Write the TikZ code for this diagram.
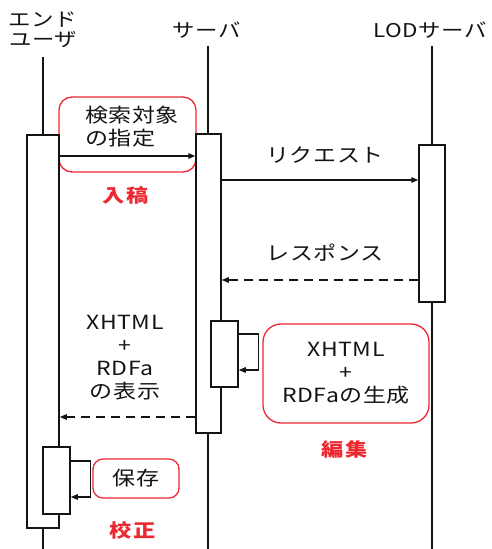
\documentclass[tikz,border=0pt]{standalone}
\usepackage{fontspec}
\setmainfont{Noto Sans CJK JP}[FakeStretch=1.18, LetterSpace=3]
\newfontfamily\redf{Noto Sans CJK JP}[FakeStretch=1.2, LetterSpace=10]
\usetikzlibrary{arrows.meta}
\definecolor{redc}{RGB}{236,40,48}
\definecolor{inkc}{RGB}{20,20,20}
\tikzset{
  life/.style={line width=1.5pt, draw=inkc},
  act/.style={draw=inkc, line width=1.5pt, fill=white, inner sep=0pt},
  rbox/.style={draw=redc, line width=1.3pt, fill=white, inner sep=0pt},
  msg/.style={line width=1.3pt, draw=inkc, -{Triangle[length=7pt,width=5.5pt]}},
  ret/.style={msg, dash pattern=on 9pt off 6pt},
  lab/.style={align=center, inner sep=0pt, text=inkc, font=\fontsize{19.5}{23}\selectfont},
  hdr/.style={lab, font=\fontsize{19}{20}\selectfont},
  redlab/.style={inner sep=0pt, text=redc, font=\redf\bfseries\fontsize{18.5}{22}\selectfont}
}
\begin{document}
\begin{tikzpicture}[x=1pt,y=-1pt]
\useasboundingbox (0,0) rectangle (491,549);
% headers
\node[hdr] (hEU) at (43,30) {エンド\\ユーザ};
\node[hdr] (hSV) at (207,30) {サーバ};
\node[hdr] (hLOD) at (430,30) {LODサーバ};
% lifelines
\coordinate (EUtop) at (43,57); \coordinate (EUbot) at (43,549);
\coordinate (SVtop) at (208,46); \coordinate (SVbot) at (208,549);
\coordinate (LODtop) at (432,46); \coordinate (LODbot) at (432,549);
\draw[life] (EUtop) -- (EUbot);
\draw[life] (SVtop) -- (SVbot);
\draw[life] (LODtop) -- (LODbot);
% red boxes
\node[rbox, rounded corners=13pt, minimum width=137pt, minimum height=75pt] (b1) at (127.5,134.5) {};
\node[lab, anchor=west, align=left] (t1) at (85,126.5) {検索対象\\の指定};
% activations
\node[act, minimum width=32pt, minimum height=393pt] (aEU) at (43,331.5) {};
\node[act, minimum width=25pt, minimum height=299pt] (aSV) at (208.5,283.5) {};
\node[act, minimum width=26pt, minimum height=157pt] (aLOD) at (432,223.5) {};
\node[act, minimum width=27pt, minimum height=66pt] (aSV2) at (224.5,354) {};
\node[act, minimum width=27pt, minimum height=67pt] (aEU2) at (56.5,480.5) {};
% messages
\draw[msg] (aEU.east |- 0,156) -- (aSV.west |- 0,156);
\draw[msg] (aSV.east |- 0,180) -- (aLOD.west |- 0,180);
\draw[ret] (aLOD.west |- 0,280) -- (aSV.east |- 0,280);
\draw[ret] (aSV.west |- 0,417) -- (aEU.east |- 0,417);
\draw[msg] (aSV2.east |- 0,334) -- ++(20,0) |- (aSV2.east |- 0,370);
\draw[msg] (aEU2.east |- 0,461) -- ++(20,0) |- (aEU2.east |- 0,497);
% labels
\node[lab] (lReq) at (325,155) {リクエスト};
\node[lab] (lRes) at (325,253) {レスポンス};
\node[lab] (lDisp) at (125,357.5) {XHTML\\+\\RDFa\\の表示};
\node[rbox, lab, rounded corners=18pt, minimum width=166pt, minimum height=99pt] (b2) at (346,373.5) {XHTML\\+\\RDFaの生成};
\node[rbox, lab, rounded corners=10pt, minimum width=86pt, minimum height=39pt] (b3) at (136,478.5) {保存};
\node[redlab] (r1) at (126,195) {入稿};
\node[redlab] (r2) at (345,449) {編集};
\node[redlab] (r3) at (133,530) {校正};
\end{tikzpicture}
\end{document}
